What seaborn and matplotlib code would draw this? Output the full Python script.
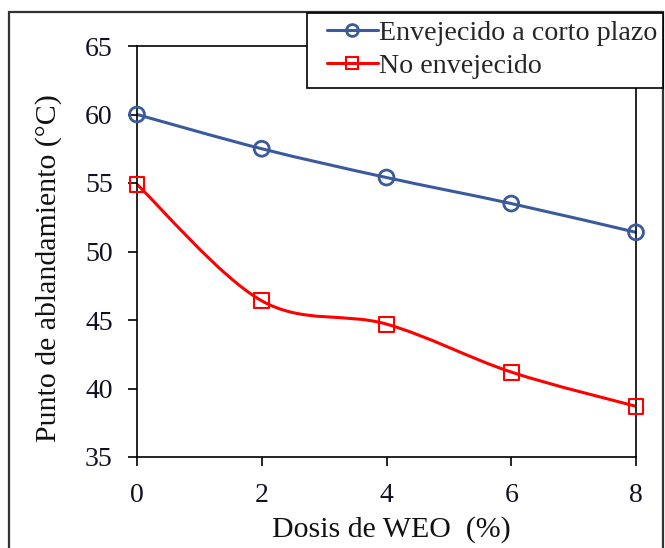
import numpy as np
import pandas as pd
import seaborn as sns
import matplotlib
matplotlib.use("Agg")
import matplotlib.pyplot as plt
from matplotlib.path import Path
from matplotlib.patches import PathPatch, Rectangle
from matplotlib.lines import Line2D

# ---- data ----
dosis = [0, 2, 4, 6, 8]
envejecido = [60.0, 57.5, 55.4, 53.5, 51.4]
no_envejecido = [54.9, 46.4, 44.7, 41.2, 38.7]
serie_nombres = ["Envejecido a corto plazo", "No envejecido"]
x_ticks = [0, 2, 4, 6, 8]
y_ticks = [35, 40, 45, 50, 55, 60, 65]

sns.set_theme(style="white")
plt.rcParams["font.family"] = ["Liberation Serif", "DejaVu Serif"]

BLUE = "#3a5a9c"
RED = "#ff0000"

df = pd.DataFrame({
    "Dosis": dosis * 2,
    "Valor": envejecido + no_envejecido,
    "Serie": [serie_nombres[0]] * len(dosis) + [serie_nombres[1]] * len(dosis),
})

W, H = 665, 548
fig = plt.figure(figsize=(W / 100, H / 100), dpi=100)
ax = fig.add_axes([137 / W, 1 - 457 / H, (636 - 137) / W, (457 - 46) / H])


def smooth_path(xs, ys):
    pts = np.column_stack([xs, ys]).astype(float)
    n = len(pts)
    verts = [pts[0]]
    codes = [Path.MOVETO]
    for i in range(n - 1):
        p0 = pts[i - 1] if i > 0 else pts[i]
        p1 = pts[i]
        p2 = pts[i + 1]
        p3 = pts[i + 2] if i + 2 < n else pts[i + 1]
        c1 = p1 + (p2 - p0) / 6.0
        c2 = p2 - (p3 - p1) / 6.0
        verts += [c1, c2, p2]
        codes += [Path.CURVE4] * 3
    return Path(verts, codes)


for vals, col in [(envejecido, BLUE), (no_envejecido, RED)]:
    ax.add_patch(PathPatch(smooth_path(dosis, vals), facecolor="none", edgecolor=col,
                           lw=2.2, zorder=2, capstyle="round"))

sns.scatterplot(data=df[df["Serie"] == serie_nombres[0]], x="Dosis", y="Valor", ax=ax,
                marker="o", s=115, facecolor="none", edgecolor=BLUE, linewidth=2.0,
                zorder=3, legend=False, clip_on=False)
sns.scatterplot(data=df[df["Serie"] == serie_nombres[1]], x="Dosis", y="Valor", ax=ax,
                marker="s", s=115, facecolor="none", edgecolor=RED, linewidth=1.5,
                zorder=3, legend=False, clip_on=False)

ax.set_xlim(0, 8)
ax.set_ylim(35, 65)
ax.set_xticks(x_ticks)
ax.set_yticks(y_ticks)
ax.set_xticklabels([str(v) for v in x_ticks])
ax.set_yticklabels([str(v) for v in y_ticks])
ax.tick_params(axis="both", direction="out", length=6.5, width=1.2, colors="black",
               labelsize=20, labelcolor="#111122", left=True, bottom=True)
ax.tick_params(axis="y", pad=11)
ax.tick_params(axis="x", pad=12)
for sp in ax.spines.values():
    sp.set_visible(True)
    sp.set_color("black")
    sp.set_linewidth(1.2)

ax.set_xlabel("Dosis de WEO  (%)", fontsize=21.5, color="#111111")
ax.set_ylabel("Punto de ablandamiento (°C)", fontsize=21.5, color="#111111")
ax.yaxis.set_label_coords(-0.150, 0.46)
ax.xaxis.set_label_coords(0.51, -0.144)

handles = [
    Line2D([], [], color=BLUE, lw=2.2, marker="o", markersize=8.5, markerfacecolor="none",
           markeredgecolor=BLUE, markeredgewidth=2.0),
    Line2D([], [], color=RED, lw=2.2, marker="s", markersize=8.5, markerfacecolor="none",
           markeredgecolor=RED, markeredgewidth=1.5),
]
leg = fig.legend(handles, serie_nombres, loc="upper left",
                 bbox_to_anchor=(327 / W, 1 - 20 / H), bbox_transform=fig.transFigure,
                 fontsize=20.2, frameon=False,
                 handlelength=1.8, handletextpad=0.05, borderpad=0, labelspacing=0.27,
                 borderaxespad=0)
leg.set_zorder(10)

# legend frame box
fig.patches.append(Rectangle((307 / W, 1 - 88 / H), (663 - 307) / W, (88 - 13) / H,
                             transform=fig.transFigure, facecolor="white", edgecolor="black",
                             lw=1.2, zorder=5))

# outer figure border
fig.patches.append(Rectangle((9 / W, -0.02), (663 - 9) / W, 1 - 12 / H + 0.02,
                             transform=fig.transFigure, fill=False, edgecolor="#333333",
                             lw=1.6, zorder=0))

fig.savefig("out.png", dpi=100)
